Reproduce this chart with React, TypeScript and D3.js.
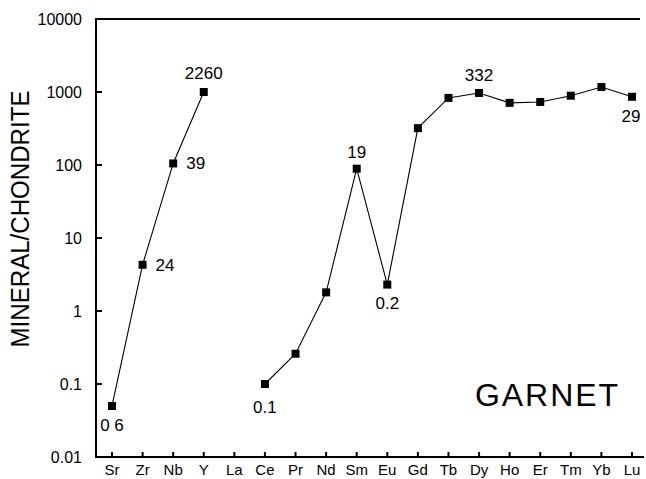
import React from 'react';
import * as d3 from 'd3';

// element order along the x axis
const elements = ['Sr', 'Zr', 'Nb', 'Y', 'La', 'Ce', 'Pr', 'Nd', 'Sm', 'Eu', 'Gd', 'Tb', 'Dy', 'Ho', 'Er', 'Tm', 'Yb', 'Lu'];

// first segment (trace elements)
const traceElements = ['Sr', 'Zr', 'Nb', 'Y'];
const traceValues = [0.05, 4.3, 105, 1000];

// second segment (REE, La missing)
const reeElements = ['Ce', 'Pr', 'Nd', 'Sm', 'Eu', 'Gd', 'Tb', 'Dy', 'Ho', 'Er', 'Tm', 'Yb', 'Lu'];
const reeValues = [0.1, 0.26, 1.8, 89, 2.3, 320, 830, 970, 710, 730, 890, 1170, 860];

const yTicks = [0.01, 0.1, 1, 10, 100, 1000, 10000];
const yTickLabels = ['0.01', '0.1', '1', '10', '100', '1000', '10000'];

// concentration labels printed next to some points
const noteElements = ['Sr', 'Zr', 'Nb', 'Y', 'Ce', 'Sm', 'Eu', 'Dy', 'Lu'];
const noteTexts = ['0 6', '24', '39', '2260', '0.1', '19', '0.2', '332', '29'];

const W = 646;
const H = 479;
const left = 96;
const right = 640;
const top = 19;
const bottom = 457;

// where each note sits relative to its point: [dx, dy, anchor]
const notePlacement: [number, number, string][] = [
  [0, 25, 'middle'],
  [13, 6, 'start'],
  [13, 6, 'start'],
  [0, -13, 'middle'],
  [0, 29, 'middle'],
  [0, -11, 'middle'],
  [0, 24, 'middle'],
  [0, -12, 'middle'],
  [-1, 25, 'middle'],
];

const App = () => {
  const x = d3.scalePoint().domain(elements).range([112, 632]);
  const y = d3.scaleLog().domain([0.01, 10000]).range([bottom, top]);

  const line = d3.line<[string, number]>()
    .x((d) => x(d[0]) as number)
    .y((d) => y(d[1]));

  const seg1: [string, number][] = traceElements.map((e, i) => [e, traceValues[i]]);
  const seg2: [string, number][] = reeElements.map((e, i) => [e, reeValues[i]]);
  const all = [...seg1, ...seg2];
  const lookup = new Map(all);

  const font = "'Liberation Sans', Arial, Helvetica, sans-serif";

  return (
    <svg width={W} height={H} style={{ position: 'absolute', left: 0, top: 0, background: '#fff' }} fontFamily={font}>
      {/* frame */}
      <line x1={left} x2={right} y1={top} y2={top} stroke="#000" strokeWidth={2} />
      <line x1={left} x2={left} y1={top - 1} y2={bottom + 1} stroke="#000" strokeWidth={2} />
      <line x1={left} x2={right + 4} y1={bottom} y2={bottom} stroke="#000" strokeWidth={2} />

      {/* y ticks */}
      {yTicks.map((t, i) => (
        <g key={t}>
          {i > 0 && i < yTicks.length - 1 && (
            <line x1={left} x2={left + 6} y1={y(t)} y2={y(t)} stroke="#000" strokeWidth={2} />
          )}
          <text x={82} y={y(t)} dy="0.35em" textAnchor="end" fontSize={16}>{yTickLabels[i]}</text>
        </g>
      ))}

      {/* x ticks */}
      {elements.map((e) => (
        <g key={e}>
          <line x1={x(e)} x2={x(e)} y1={bottom} y2={bottom - 5} stroke="#000" strokeWidth={2} />
          <text x={x(e)} y={475} textAnchor="middle" fontSize={15}>{e}</text>
        </g>
      ))}

      <text
        transform="translate(29,219) rotate(-90)"
        textAnchor="middle"
        fontSize={25}
        textLength={257}
        lengthAdjust="spacingAndGlyphs"
      >
        MINERAL/CHONDRITE
      </text>

      {/* data */}
      {[seg1, seg2].map((s, i) => (
        <path key={i} d={line(s) || ''} fill="none" stroke="#000" strokeWidth={1.1} />
      ))}
      {all.map(([e, v]) => (
        <rect key={e} x={(x(e) as number) - 4} y={y(v) - 4} width={8} height={8} fill="#000" />
      ))}

      {noteElements.map((e, i) => {
        const [dx, dy, anchor] = notePlacement[i];
        return (
          <text key={e} x={(x(e) as number) + dx} y={y(lookup.get(e) as number) + dy}
            textAnchor={anchor as any} fontSize={17}>
            {noteTexts[i]}
          </text>
        );
      })}

      <text x={475} y={406} fontSize={32} textLength={143} lengthAdjust="spacing">GARNET</text>
    </svg>
  );
};

export default App;
